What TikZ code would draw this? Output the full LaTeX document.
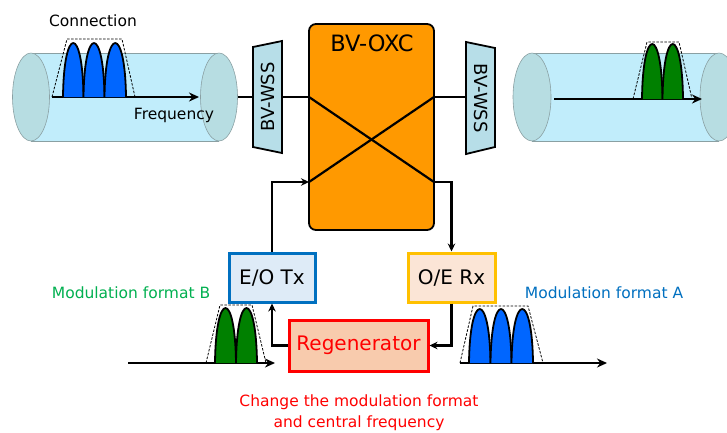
\documentclass[tikz,border=0pt]{standalone}
\usepackage{fontspec}
\setmainfont{DejaVu Sans}
\usetikzlibrary{arrows.meta,calc}
\definecolor{cylbody}{HTML}{C1EDFB}
\definecolor{cylcap}{HTML}{B7DDE2}
\definecolor{cyledge}{HTML}{8AA0A3}
\definecolor{wssfill}{HTML}{B7DEE8}
\definecolor{oxcfill}{HTML}{FF9900}
\definecolor{peakblue}{HTML}{0066FF}
\definecolor{peakgreen}{HTML}{008000}
\definecolor{txfill}{HTML}{DEEBF7}
\definecolor{txedge}{HTML}{0070C0}
\definecolor{rxfill}{HTML}{FBE5D6}
\definecolor{rxedge}{HTML}{FFC000}
\definecolor{regfill}{HTML}{F8CBAD}
\definecolor{regedge}{HTML}{FF0000}
\definecolor{fmtgreen}{HTML}{00B050}
\definecolor{fmtblue}{HTML}{0070C0}
\newcommand\mypeak[5]{% x0 x1 ybase ytop color
  \draw[line width=1.8pt, fill=#5] (#1,#3) .. controls ({#1+0.04*(#2-#1)},{#3-1.333*(#3-#4)}) and ({#2-0.04*(#2-#1)},{#3-1.333*(#3-#4)}) .. (#2,#3);}
\newcommand\mycyl[5]{% xl xr ytop ybot rx
  \fill[cylbody] (#1,#3) rectangle (#2,#4);
  \draw[cyledge, line width=0.6pt] (#1,#3) -- (#2,#3) (#1,#4) -- (#2,#4);
  \filldraw[fill=cylcap, draw=cyledge, line width=0.6pt] (#1,{(#3+#4)/2}) ellipse [x radius=#5, y radius={(#4-#3)/2}];
  \filldraw[fill=cylcap, draw=cyledge, line width=0.6pt] (#2,{(#3+#4)/2}) ellipse [x radius=#5, y radius={(#4-#3)/2}];}
\tikzset{
  axisarr/.style={line width=2.2pt, -{Stealth[length=10pt,width=9pt]}},
  conn/.style={line width=2.2pt, -{Stealth[length=8pt,width=7.5pt]}},
  plain/.style={line width=2.2pt},
  trap/.style={dash pattern=on 2.5pt off 1.5pt, line width=0.8pt},
  lbl/.style={font=\fontsize{15.5}{18}\selectfont, inner sep=0pt},
  boxtxt/.style={font=\fontsize{20}{24}\selectfont, inner sep=0pt, line width=3pt},
}
\begin{document}
\begin{tikzpicture}[x=1pt, y=-1pt]
\clip (0,0) rectangle (727,432);
\fill[white] (0,0) rectangle (727,432);

% cylinders
\mycyl{31}{219}{53}{141}{18.5}
\mycyl{532}{719}{53}{141}{19}

% upper-left spectrum
\coordinate (ulA) at (52,97);
\coordinate (ulB) at (199,97);
\draw[axisarr] (ulA) -- (ulB);
\draw[trap] (52,97) -- (67,39) -- (122,39) -- (135,97);
\mypeak{63}{83.5}{97}{43}{peakblue}
\mypeak{83.5}{104.5}{97}{43}{peakblue}
\mypeak{104.5}{126}{97}{43}{peakblue}
\node[lbl] (conntxt) at (93,21) {Connection};
\node[lbl] (freqtxt) at (174,115) {Frequency};

% upper-right spectrum
\coordinate (urA) at (554,99);
\coordinate (urB) at (702,99);
\draw[axisarr] (urA) -- (urB);
\draw[trap] (633,99) -- (647,42) -- (679,42) -- (692,99);
\mypeak{642}{662.5}{99}{44}{peakgreen}
\mypeak{662.5}{683}{99}{44}{peakgreen}

% BV-OXC
\node[draw, fill=oxcfill, rounded corners=7pt, line width=1.8pt, minimum width=125pt, minimum height=206pt, inner sep=0pt] (oxc) at (371.5,127) {};
\node[font=\fontsize{22.5}{26}\selectfont, inner sep=0pt] (oxctxt) at (372,43) {BV-OXC};
\coordinate (pA) at (309,97);
\coordinate (pB) at (434,97);
\coordinate (pC) at (309,182);
\coordinate (pD) at (434,182);
\draw[plain] (pA) -- (pD);
\draw[plain] (pB) -- (pC);

% WSS left
\filldraw[fill=wssfill, line width=1.8pt] (253,47) -- (282,41) -- (282,153) -- (253,147) -- cycle;
\node[font=\fontsize{18}{20}\selectfont, rotate=90, inner sep=0pt] (wssL) at (268,97) {BV-WSS};
% WSS right
\filldraw[fill=wssfill, line width=1.8pt] (466,42) -- (495,48) -- (495,147) -- (466,154) -- cycle;
\node[font=\fontsize{18}{20}\selectfont, rotate=-90, inner sep=0pt] (wssR) at (481,98) {BV-WSS};

\coordinate (cylLend) at (238,97);
\coordinate (wssLin) at (253,97);
\coordinate (wssLout) at (282,97);
\coordinate (wssRin) at (466,97);
\draw[plain] (cylLend) -- (wssLin);
\draw[plain] (wssLout) -- (pA);
\draw[plain] (pB) -- (wssRin);

% Tx / Rx / Regenerator
\node[boxtxt, draw=txedge, fill=txfill, minimum width=86pt, minimum height=49pt] (tx) at (272,277.5) {E/O Tx};
\node[boxtxt, draw=rxedge, fill=rxfill, minimum width=87pt, minimum height=49pt] (rx) at (451.5,277.5) {O/E Rx};
\node[boxtxt, draw=regedge, fill=regfill, text=regedge, minimum width=139pt, minimum height=51pt] (reg) at (358.5,345.5) {Regenerator};

\draw[conn] (tx.north) |- (pC);
\draw[conn] (pD) -| (rx.north);
\draw[conn] (rx.south) |- (reg.east);
\draw[conn] (reg.west) -| (tx.south);

% bottom-left spectrum
\coordinate (blA) at (128,363);
\coordinate (blB) at (275,363);
\draw[axisarr] (blA) -- (blB);
\draw[trap] (206,363) -- (220,305) -- (252,305) -- (266,363);
\mypeak{215}{236}{363}{308}{peakgreen}
\mypeak{236}{257}{363}{308}{peakgreen}
\node[lbl, text=fmtgreen] (fmtB) at (131,293) {Modulation format B};

% bottom-right spectrum
\coordinate (brA) at (460,363);
\coordinate (brB) at (607,363);
\draw[axisarr] (brA) -- (brB);
\draw[trap] (460,363) -- (473,306) -- (528,306) -- (543,363);
\mypeak{469}{490.5}{363}{309}{peakblue}
\mypeak{490.5}{511.5}{363}{309}{peakblue}
\mypeak{511.5}{533}{363}{309}{peakblue}
\node[lbl, text=fmtblue] (fmtA) at (604,293) {Modulation format A};

\node[font=\fontsize{15.5}{21}\selectfont, text=regedge, align=center, inner sep=0pt] (change) at (359,412.5) {Change the modulation format\\and central frequency};
\end{tikzpicture}
\end{document}
